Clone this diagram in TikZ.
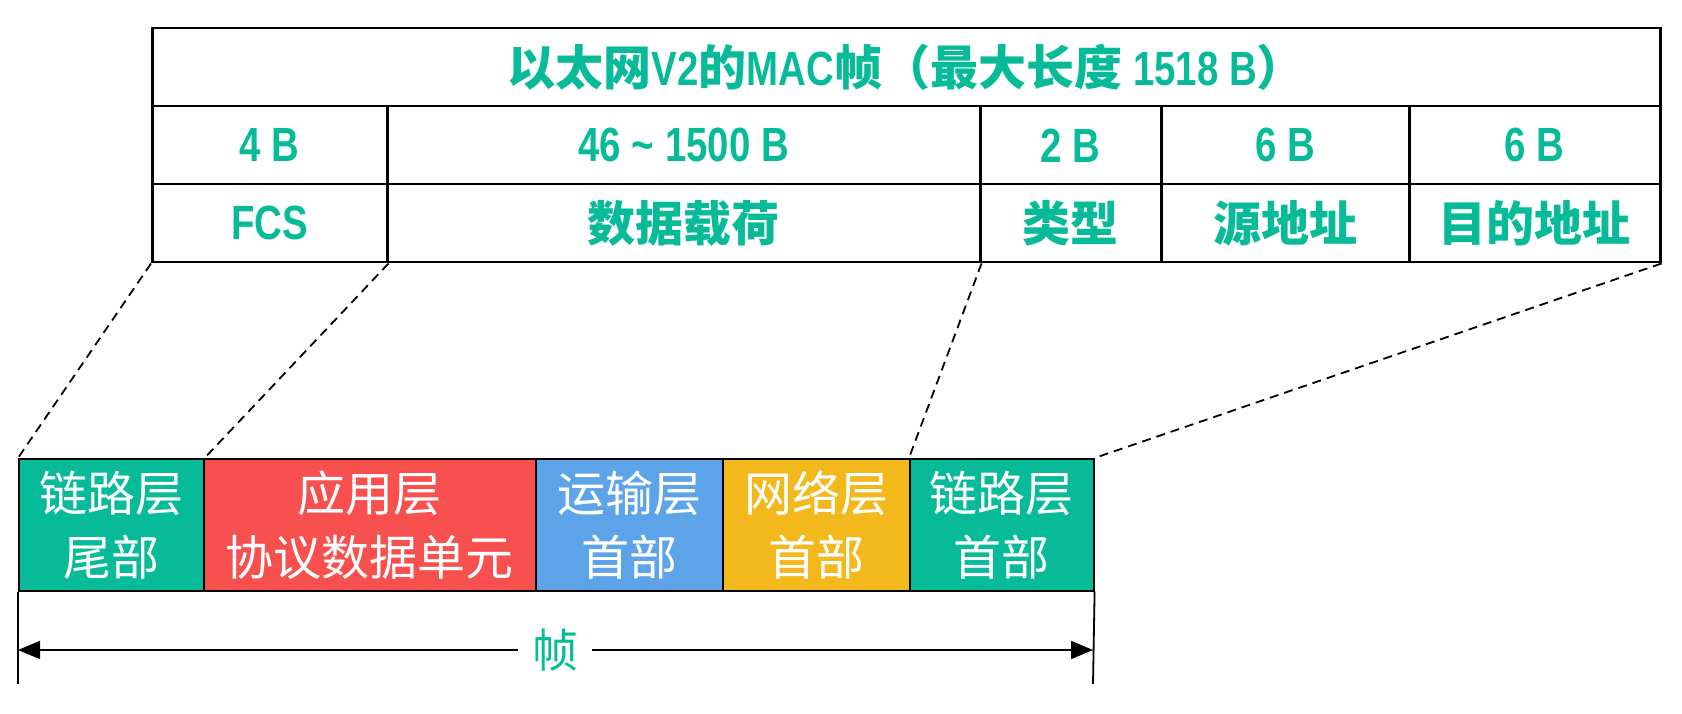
\documentclass[tikz,border=0pt]{standalone}
\usepackage{fontspec}
\setmainfont{Liberation Sans}
\newfontfamily\cjk{Noto Sans CJK SC}
\newfontfamily\narrowlat[FakeStretch=0.8]{Liberation Sans}
\newcommand\latn[1]{{\narrowlat #1}}
\usetikzlibrary{arrows.meta}
\definecolor{framegreen}{RGB}{7,187,153}
\definecolor{appred}{RGB}{248,79,79}
\definecolor{transblue}{RGB}{93,163,232}
\definecolor{netyellow}{RGB}{243,184,27}
\begin{document}
\begin{tikzpicture}[x=1pt,y=-1pt,
  cell/.style={draw,line width=2.5pt,minimum height=78pt,inner sep=0pt,anchor=north west,
    text=framegreen,font=\cjk\bfseries\fontsize{48}{56}\selectfont},
  block/.style={draw=black,line width=1.6pt,minimum height=132pt,inner sep=0pt,anchor=north west,
    text=white,align=center,font=\cjk\fontsize{48}{64}\selectfont},
  link/.style={dashed,line width=1.8pt,dash pattern=on 9pt off 6pt}]
  \useasboundingbox (0,0) rectangle (1682,714);

  % top table: Ethernet V2 MAC frame
  \node[cell,minimum width=1508pt] (title) at (151,27)
    {以太网\latn{V2}的\latn{MAC}帧（最大长度 \latn{1518 B}）};
  \node[cell,minimum width=235pt] (fcsb) at (151,105) {\latn{4 B}};
  \node[cell,minimum width=593pt] (payb) at (386,105) {\latn{46 \char`~{} 1500 B}};
  \node[cell,minimum width=181pt] (typeb) at (979,105) {\latn{2 B}};
  \node[cell,minimum width=248pt] (srcb) at (1160,105) {\latn{6 B}};
  \node[cell,minimum width=251pt] (dstb) at (1408,105) {\latn{6 B}};
  \node[cell,minimum width=235pt] (fcs) at (151,183) {\latn{FCS}};
  \node[cell,minimum width=593pt] (pay) at (386,183) {数据载荷};
  \node[cell,minimum width=181pt] (type) at (979,183) {类型};
  \node[cell,minimum width=248pt] (src) at (1160,183) {源地址};
  \node[cell,minimum width=251pt] (dst) at (1408,183) {目的地址};

  % bottom row: encapsulated frame
  \node[block,fill=framegreen,minimum width=185pt] (trail) at (18,458) {链路层\\尾部};
  \node[block,fill=appred,minimum width=332pt] (app) at (203,458) {应用层\\协议数据单元};
  \node[block,fill=transblue,minimum width=187pt] (trans) at (535,458) {运输层\\首部};
  \node[block,fill=netyellow,minimum width=187pt] (net) at (722,458) {网络层\\首部};
  \node[block,fill=framegreen,minimum width=184pt] (lhead) at (909,458) {链路层\\首部};

  \draw[link] (fcs.south west) -- (trail.north west);
  \draw[link] (fcs.south east) -- (trail.north east);
  \draw[link] (pay.south east) -- (lhead.north west);
  \draw[link] (dst.south east) -- (lhead.north east);

  % frame length arrow
  \coordinate (tickL) at (18,684);
  \coordinate (tickR) at (1093,684);
  \draw[line width=1.8pt] (trail.south west) -- (tickL);
  \draw[line width=1.8pt] (lhead.south east) -- (tickR);
  \node[text=framegreen,font=\cjk\fontsize{46}{52}\selectfont,inner sep=14pt] (frm) at (555,650) {帧};
  \draw[line width=1.8pt,-{Triangle[length=22pt,width=18pt]}] (frm) -- (tickL |- frm);
  \draw[line width=1.8pt,-{Triangle[length=22pt,width=18pt]}] (frm) -- (tickR |- frm);
\end{tikzpicture}
\end{document}
